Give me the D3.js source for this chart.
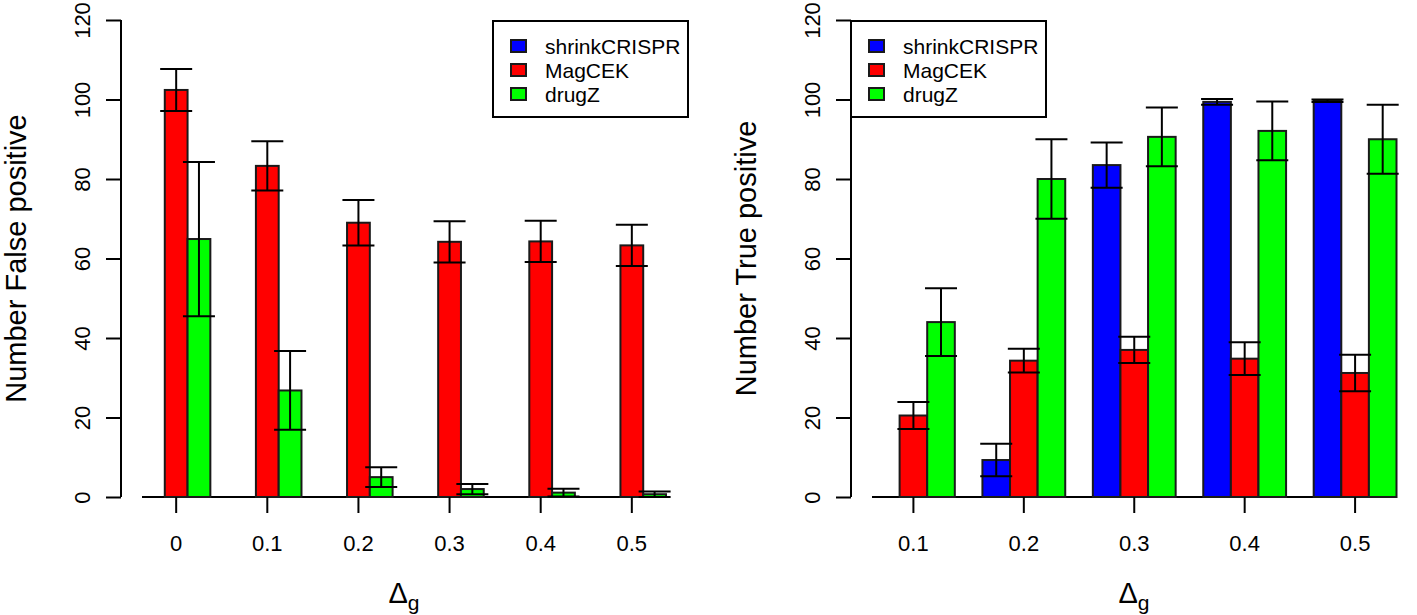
<!DOCTYPE html>
<html>
<head>
<meta charset="utf-8">
<script src="https://cdn.jsdelivr.net/npm/d3@7"></script>
<style>
  html, body { margin: 0; padding: 0; background: #fff; }
  svg { display: block; font-family: "Liberation Sans", Arial, Helvetica, sans-serif; }
</style>
</head>
<body>
<svg id="chart" width="1417" height="615"></svg>
<script>
// ---------- data ----------
const seriesNames = ["shrinkCRISPR", "MagCEK", "drugZ"];
const seriesColors = ["#0000FF", "#FF0000", "#00FF00"];

// Left panel: false positives
const fpCategories = ["0", "0.1", "0.2", "0.3", "0.4", "0.5"];
const fpShrink     = [0, 0, 0, 0, 0, 0];
const fpShrinkErr  = [0, 0, 0, 0, 0, 0];
const fpMagcek     = [102.4, 83.3, 69.0, 64.2, 64.3, 63.3];
const fpMagcekErr  = [5.3, 6.2, 5.7, 5.2, 5.2, 5.2];
const fpDrugz      = [64.9, 26.8, 5.0, 2.0, 1.1, 0.7];
const fpDrugzErr   = [19.4, 9.9, 2.5, 1.3, 1.0, 0.7];

// Right panel: true positives
const tpCategories = ["0.1", "0.2", "0.3", "0.4", "0.5"];
const tpShrink     = [0, 9.3, 83.5, 99.4, 99.7];
const tpShrinkErr  = [0, 4.1, 5.7, 0.7, 0.3];
const tpMagcek     = [20.5, 34.3, 37.0, 34.8, 31.2];
const tpMagcekErr  = [3.4, 3.0, 3.3, 4.1, 4.6];
const tpDrugz      = [44.0, 80.0, 90.6, 92.1, 90.0];
const tpDrugzErr   = [8.5, 10.0, 7.4, 7.4, 8.7];

const yTicks = [0, 20, 40, 60, 80, 100, 120];

// ---------- drawing ----------
const svg = d3.select("#chart");
const FONT = 22, FONT_LEG = 21, FONT_LAB = 29;

function panel(cfg) {
  const g = svg.append("g");
  const y = d3.scaleLinear().domain([0, 120]).range([cfg.bottom, cfg.top]);
  const x0 = d3.scaleBand().domain(cfg.categories)
    .range([cfg.barLeft, cfg.barRight]).paddingInner(0.25).paddingOuter(0);
  const x1 = d3.scaleBand().domain(seriesNames).range([0, x0.bandwidth()]);

  const vals = [cfg.shrink, cfg.magcek, cfg.drugz];
  const errs = [cfg.shrinkErr, cfg.magcekErr, cfg.drugzErr];
  const rows = [];
  cfg.categories.forEach((c, i) => {
    seriesNames.forEach((s, j) => {
      rows.push({cat: c, series: s, color: seriesColors[j], v: vals[j][i], e: errs[j][i]});
    });
  });

  // baseline
  g.append("line")
    .attr("x1", x0.range()[0]).attr("x2", x0.range()[1])
    .attr("y1", y(0)).attr("y2", y(0))
    .attr("stroke", "#000").attr("stroke-width", 2);

  // bars
  g.selectAll("rect.bar").data(rows.filter(d => d.v > 0)).join("rect")
    .attr("class", "bar")
    .attr("x", d => x0(d.cat) + x1(d.series))
    .attr("width", x1.bandwidth())
    .attr("y", d => y(d.v))
    .attr("height", d => y(0) - y(d.v))
    .attr("fill", d => d.color)
    .attr("stroke", "#1a1a1a").attr("stroke-width", 2);

  // error bars
  const eb = rows.filter(d => d.v > 0);
  const cap = 16;
  const cx = d => x0(d.cat) + x1(d.series) + x1.bandwidth() / 2;
  g.selectAll("line.ev").data(eb).join("line")
    .attr("class", "ev")
    .attr("x1", cx).attr("x2", cx)
    .attr("y1", d => y(d.v + d.e)).attr("y2", d => y(Math.max(0, d.v - d.e)))
    .attr("stroke", "#000").attr("stroke-width", 2);
  g.selectAll("line.eu").data(eb).join("line")
    .attr("class", "eu")
    .attr("x1", d => cx(d) - cap).attr("x2", d => cx(d) + cap)
    .attr("y1", d => y(d.v + d.e)).attr("y2", d => y(d.v + d.e))
    .attr("stroke", "#000").attr("stroke-width", 2);
  g.selectAll("line.el").data(eb).join("line")
    .attr("class", "el")
    .attr("x1", d => cx(d) - cap).attr("x2", d => cx(d) + cap)
    .attr("y1", d => y(Math.max(0, d.v - d.e))).attr("y2", d => y(Math.max(0, d.v - d.e)))
    .attr("stroke", "#000").attr("stroke-width", 2);

  // y axis
  const yAxis = d3.axisLeft(y).tickValues(yTicks).tickSize(15).tickPadding(0).tickFormat(d3.format("d"));
  const ya = g.append("g").attr("transform", `translate(${cfg.axisX},0)`).call(yAxis);
  ya.attr("font-size", FONT).attr("font-family", "Liberation Sans, Arial, sans-serif");
  ya.select(".domain").attr("d", `M-0,${y(0)}V${y(120)}`).attr("stroke", "#000").attr("stroke-width", 2);
  ya.selectAll(".tick line").attr("stroke", "#000").attr("stroke-width", 2);
  ya.selectAll(".tick text")
    .attr("x", null).attr("dy", null)
    .attr("transform", "translate(-39,0) rotate(-90)")
    .attr("text-anchor", "middle")
    .attr("dominant-baseline", "central")
    .attr("font-size", FONT).attr("fill", "#000");

  // x axis (ticks at group centres)
  const xa = g.append("g").attr("transform", `translate(0,${y(0)})`);
  const ticksX = cfg.categories.map(c => ({c, x: x0(c) + x0.bandwidth() / 2}));
  xa.selectAll("line").data(ticksX).join("line")
    .attr("x1", d => d.x).attr("x2", d => d.x)
    .attr("y1", 0).attr("y2", 16)
    .attr("stroke", "#000").attr("stroke-width", 2);
  xa.selectAll("text").data(ticksX).join("text")
    .attr("x", d => d.x).attr("y", 54)
    .attr("text-anchor", "middle")
    .attr("font-size", FONT).attr("fill", "#000")
    .text(d => d.c);

  // x label  Δg
  const midX = (cfg.axisX + cfg.plotRight) / 2;
  const xl = g.append("text")
    .attr("x", midX).attr("y", 603)
    .attr("text-anchor", "middle")
    .attr("font-size", FONT_LAB).attr("fill", "#000");
  xl.append("tspan").text("Δ");
  xl.append("tspan").attr("dy", 7).attr("font-size", 21).text("g");

  // y label
  g.append("text")
    .attr("transform", `translate(${cfg.axisX - 95},${(y(0) + y(120)) / 2}) rotate(-90)`)
    .attr("text-anchor", "middle")
    .attr("font-size", FONT_LAB).attr("fill", "#000")
    .text(cfg.ylabel);

  // legend
  const lg = g.append("g").attr("transform", `translate(${cfg.legX},${cfg.legY})`);
  lg.append("rect").attr("x", 0).attr("y", 0).attr("width", 195).attr("height", 96)
    .attr("fill", "#fff").attr("stroke", "#000").attr("stroke-width", 2);
  const items = lg.selectAll("g.item").data(seriesNames).join("g")
    .attr("class", "item")
    .attr("transform", (d, i) => `translate(0,${25 + i * 24})`);
  items.append("rect").attr("x", 18).attr("y", -6).attr("width", 15).attr("height", 12)
    .attr("fill", (d, i) => seriesColors[i]).attr("stroke", "#1a1a1a").attr("stroke-width", 2);
  items.append("text").attr("x", 52).attr("y", 0)
    .attr("dominant-baseline", "central")
    .attr("font-size", FONT_LEG).attr("fill", "#000")
    .text(d => d);
}

panel({
  categories: fpCategories,
  shrink: fpShrink, shrinkErr: fpShrinkErr,
  magcek: fpMagcek, magcekErr: fpMagcekErr,
  drugz: fpDrugz, drugzErr: fpDrugzErr,
  top: 20, bottom: 497,
  axisX: 121, plotRight: 687,
  barLeft: 142, barRight: 666,
  ylabel: "Number False positive",
  legX: 493, legY: 21
});

panel({
  categories: tpCategories,
  shrink: tpShrink, shrinkErr: tpShrinkErr,
  magcek: tpMagcek, magcekErr: tpMagcekErr,
  drugz: tpDrugz, drugzErr: tpDrugzErr,
  top: 20, bottom: 497,
  axisX: 851, plotRight: 1417,
  barLeft: 872, barRight: 1396.5,
  ylabel: "Number True positive",
  legX: 851, legY: 21
});
</script>
</body>
</html>
